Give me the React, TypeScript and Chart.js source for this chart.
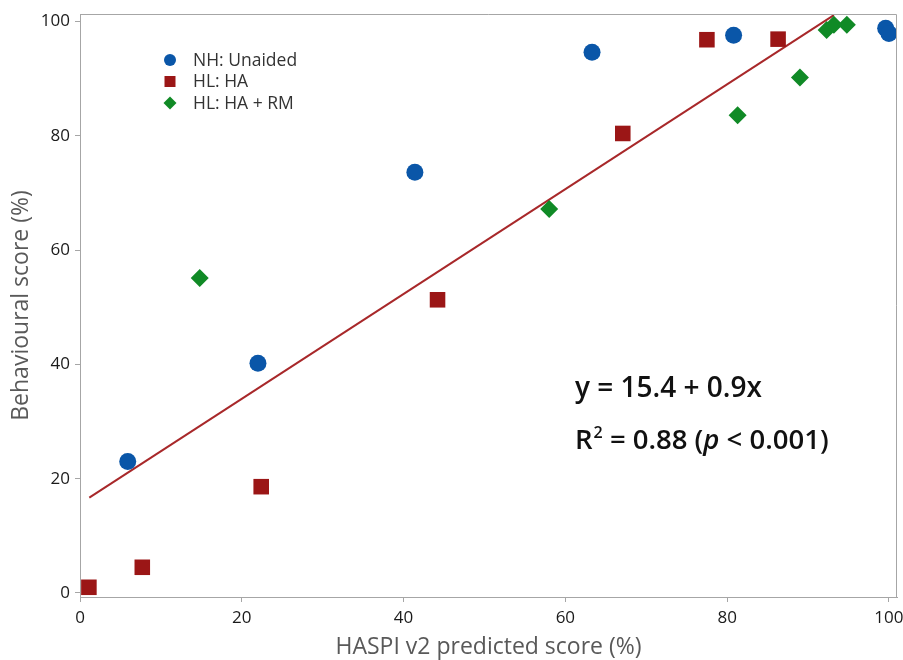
import { useEffect, useRef } from 'react';
import { Chart, registerables } from 'chart.js';

Chart.register(...registerables);

const FONT = '"Open Sans", "Noto Sans", "DejaVu Sans", sans-serif';

// NH: Unaided
const nhX = [5.9, 22.0, 41.4, 63.3, 80.8, 99.6, 100.0];
const nhY = [23.0, 40.2, 73.6, 94.6, 97.6, 98.8, 97.9];
// HL: HA
const haX = [1.1, 7.7, 22.4, 44.2, 67.1, 77.5, 86.3];
const haY = [1.0, 4.5, 18.6, 51.3, 80.4, 96.8, 96.9];
// HL: HA + RM
const rmX = [14.8, 58.0, 81.3, 89.0, 92.3, 93.2, 94.8];
const rmY = [55.1, 67.2, 83.6, 90.2, 98.5, 99.4, 99.4];
// regression line end points
const fitX = [1.15, 93.2];
const fitY = [16.7, 101.1];

const seriesLabels = ['NH: Unaided', 'HL: HA', 'HL: HA + RM'];
const xTicks = [0, 20, 40, 60, 80, 100];
const yTicks = [0, 20, 40, 60, 80, 100];

const BLUE = '#0a56a8';
const RED = '#9b1616';
const GREEN = '#108a26';
const LINE = '#a8282a';
const AXIS = '#a6a6a6';

const PLOT_RIGHT_GAP = 6;
const PLOT_TOP = 14;

const pts = (xs: number[], ys: number[]) => xs.map((x, i) => ({ x, y: ys[i] }));

// pin the plot area so that tick-label overflow does not shrink it
const areaPlugin = {
  id: 'pinArea',
  afterLayout(chart: any) {
    const a = chart.chartArea;
    const xs = chart.scales.x;
    const ys = chart.scales.y;
    const right = chart.width - PLOT_RIGHT_GAP;
    a.right = right;
    a.width = right - a.left;
    xs.right = right;
    xs.width = right - xs.left;
    xs.configure();
    a.top = PLOT_TOP;
    a.height = a.bottom - PLOT_TOP;
    ys.top = PLOT_TOP;
    ys.height = ys.bottom - PLOT_TOP;
    ys.configure();
  },
};

const framePlugin = {
  id: 'frame',
  afterDatasetsDraw(chart: any) {
    const { ctx, chartArea: a } = chart;
    ctx.save();
    ctx.strokeStyle = AXIS;
    ctx.lineWidth = 1;
    ctx.beginPath();
    ctx.moveTo(a.left, a.top + 0.5);
    ctx.lineTo(a.right - 0.5, a.top + 0.5);
    ctx.lineTo(a.right - 0.5, a.bottom);
    ctx.stroke();
    ctx.restore();
  },
};

function marker(ctx: CanvasRenderingContext2D, style: string, x: number, y: number, r: number, color: string) {
  ctx.fillStyle = color;
  ctx.beginPath();
  if (style === 'circle') {
    ctx.arc(x, y, r, 0, Math.PI * 2);
  } else if (style === 'rect') {
    ctx.rect(x - r, y - r, 2 * r, 2 * r);
  } else {
    ctx.moveTo(x - r, y);
    ctx.lineTo(x, y - r);
    ctx.lineTo(x + r, y);
    ctx.lineTo(x, y + r);
    ctx.closePath();
  }
  ctx.fill();
}

const legendPlugin = {
  id: 'innerLegend',
  afterDraw(chart: any) {
    const { ctx } = chart;
    const styles = ['circle', 'rect', 'diamond'];
    const colors = [BLUE, RED, GREEN];
    const sizes = [6, 5.5, 6.5];
    const x0 = 170;
    const y0 = 60;
    const dy = 21.5;
    ctx.save();
    ctx.font = `17.5px ${FONT}`;
    ctx.textBaseline = 'middle';
    ctx.textAlign = 'left';
    seriesLabels.forEach((label, i) => {
      const y = y0 + i * dy;
      marker(ctx, styles[i], x0, y, sizes[i], colors[i]);
      ctx.fillStyle = '#333333';
      ctx.fillText(label, 193, y + 1);
    });
    ctx.restore();
  },
};

const annotationPlugin = {
  id: 'annot',
  afterDraw(chart: any) {
    const { ctx } = chart;
    const xs = chart.scales.x;
    const ys = chart.scales.y;
    const left = xs.getPixelForValue(61.2);
    const eqBase = ys.getPixelForValue(34.3);
    const r2Base = ys.getPixelForValue(25.2);
    ctx.save();
    ctx.fillStyle = '#111111';
    ctx.textBaseline = 'alphabetic';
    ctx.textAlign = 'left';
    ctx.font = `600 28px ${FONT}`;
    ctx.fillText('y = 15.4 + 0.9x', left, eqBase);
    const big = `600 27.5px ${FONT}`;
    ctx.font = big;
    let x = left;
    ctx.fillText('R', x, r2Base);
    x += ctx.measureText('R').width + 1;
    ctx.font = `600 16px ${FONT}`;
    ctx.fillText('2', x, r2Base - 11);
    x += ctx.measureText('2').width;
    ctx.font = big;
    const s1 = ' = 0.88 (';
    ctx.fillText(s1, x, r2Base);
    x += ctx.measureText(s1).width;
    ctx.font = `italic 600 27.5px ${FONT}`;
    ctx.fillText('p', x, r2Base);
    x += ctx.measureText('p').width;
    ctx.font = big;
    ctx.fillText(' < 0.001)', x, r2Base);
    ctx.restore();
  },
};

export default function App() {
  const ref = useRef<HTMLCanvasElement | null>(null);

  useEffect(() => {
    if (!ref.current) return;
    const chart = new Chart(ref.current, {
      type: 'scatter',
      data: {
        datasets: [
          {
            label: seriesLabels[0],
            data: pts(nhX, nhY),
            pointStyle: 'circle',
            pointRadius: 8.5,
            backgroundColor: BLUE,
            borderColor: BLUE,
            borderWidth: 0,
          },
          {
            label: seriesLabels[1],
            data: pts(haX, haY),
            pointStyle: 'rect',
            pointRadius: 11,
            backgroundColor: RED,
            borderColor: RED,
            borderWidth: 0,
          },
          {
            label: seriesLabels[2],
            data: pts(rmX, rmY),
            pointStyle: 'rectRot',
            pointRadius: 9,
            backgroundColor: GREEN,
            borderColor: GREEN,
            borderWidth: 0,
          },
          {
            type: 'line',
            label: 'fit',
            data: pts(fitX, fitY),
            showLine: true,
            pointRadius: 0,
            borderColor: LINE,
            borderWidth: 2,
            fill: false,
          } as any,
        ],
      },
      options: {
        responsive: false,
        animation: false,
        layout: { padding: { top: PLOT_TOP, right: PLOT_RIGHT_GAP, left: 0, bottom: 0 } },
        plugins: { legend: { display: false }, tooltip: { enabled: false } },
        scales: {
          x: {
            type: 'linear',
            min: 0,
            max: 101,
            afterBuildTicks: (s: any) => {
              s.ticks = xTicks.map((v) => ({ value: v }));
            },
            afterFit: (s: any) => {
              s.height = 63;
            },
            grid: { drawOnChartArea: false, drawTicks: true, tickLength: 5, color: AXIS },
            border: { display: true, color: AXIS, width: 1 },
            ticks: {
              font: { family: FONT, size: 17, lineHeight: '32px' },
              color: '#1a1a1a',
              padding: 0,
              maxRotation: 0,
              autoSkip: false,
            },
            title: {
              display: true,
              text: 'HASPI v2 predicted score (%)',
              font: { family: FONT, size: 23 },
              color: '#595959',
              padding: { top: 0, bottom: -1 },
            },
          },
          y: {
            type: 'linear',
            min: -0.7,
            max: 101.3,
            afterBuildTicks: (s: any) => {
              s.ticks = yTicks.map((v) => ({ value: v }));
            },
            afterFit: (s: any) => {
              s.width = 80;
            },
            grid: { drawOnChartArea: false, drawTicks: true, tickLength: 5, color: AXIS },
            border: { display: true, color: AXIS, width: 1 },
            ticks: { font: { family: FONT, size: 17, lineHeight: 1 }, color: '#1a1a1a', padding: 5, autoSkip: false },
            title: {
              display: true,
              text: 'Behavioural score (%)',
              font: { family: FONT, size: 23 },
              color: '#595959',
              padding: { top: 8, bottom: 0 },
            },
          },
        },
      },
      plugins: [areaPlugin, framePlugin, legendPlugin, annotationPlugin],
    });
    return () => chart.destroy();
  }, []);

  return (
    <div style={{ position: 'fixed', left: 0, top: 0, width: 903, height: 660, background: '#fff' }}>
      <canvas ref={ref} width={903} height={660} style={{ display: 'block', width: 903, height: 660 }} />
    </div>
  );
}
